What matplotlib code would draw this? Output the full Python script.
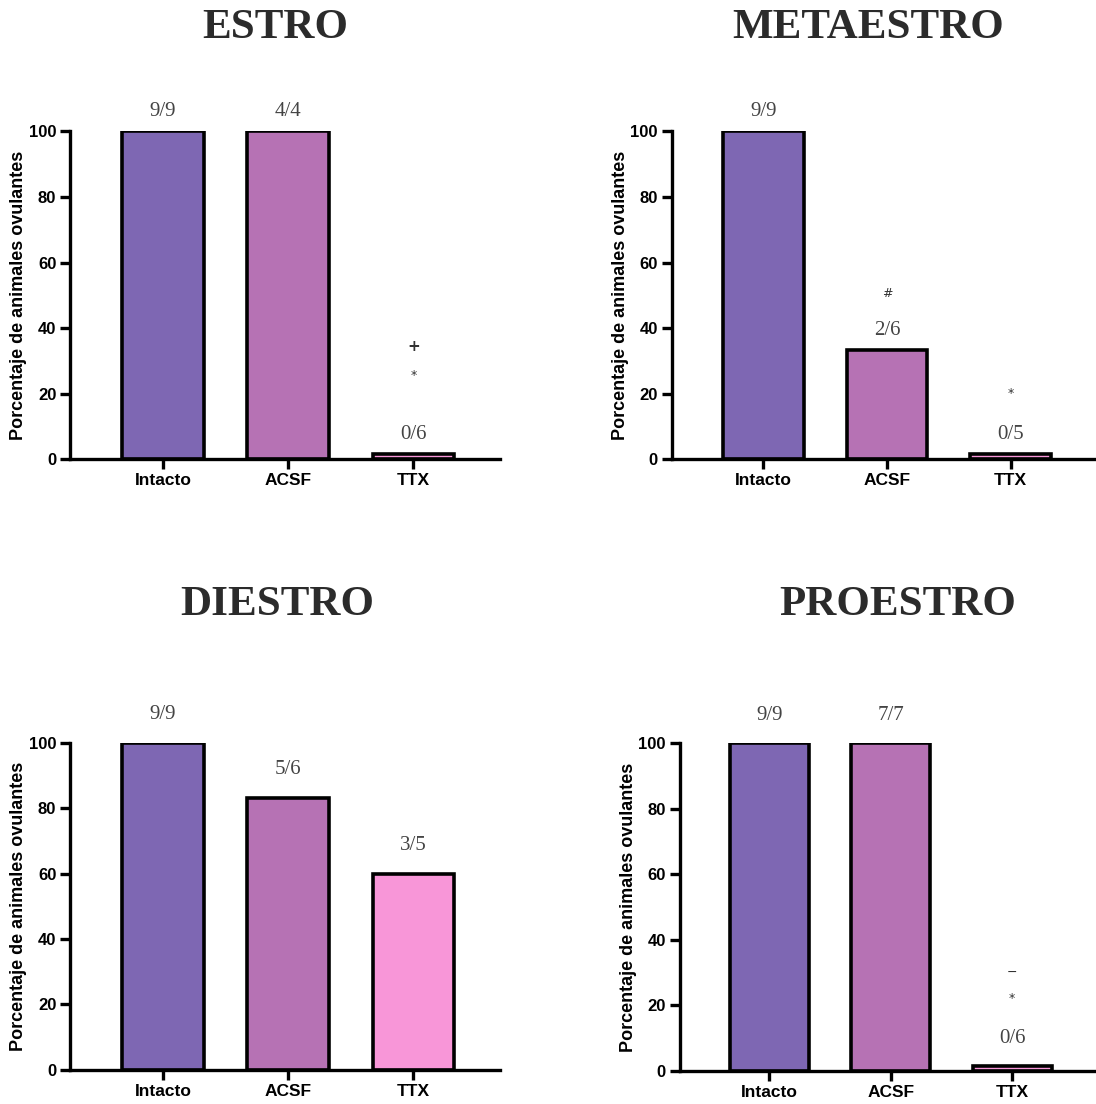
import numpy as np
import matplotlib
matplotlib.use('Agg')
import matplotlib.pyplot as plt

# data
groups = ['Intacto', 'ACSF', 'TTX']
titles = ['ESTRO', 'METAESTRO', 'DIESTRO', 'PROESTRO']
pct = [[100, 100, 0], [100, 33.3, 0], [100, 83.3, 60], [100, 100, 0]]
ratios = [['9/9', '4/4', '0/6'], ['9/9', '2/6', '0/5'],
          ['9/9', '5/6', '3/5'], ['9/9', '7/7', '0/6']]
# significance marks above TTX / ACSF (panel, group, symbol, y)
marks = [(0, 2, '*', 25.5), (0, 2, '+', 34.5),
         (1, 1, '#', 50.5), (1, 2, '*', 20),
         (3, 2, '*', 22), (3, 2, '\u2212', 30)]
colors = ['#7e67b3', '#b672b4', '#f896d8']

fig = plt.figure(figsize=(10.96, 11.04), dpi=100)
boxes = [[0.064, 0.584, 0.392, 0.297],
         [0.613, 0.584, 0.387, 0.297],
         [0.064, 0.031, 0.392, 0.296],
         [0.620, 0.030, 0.380, 0.297]]
title_xy = [(0.251, 0.975), (0.792, 0.975), (0.253, 0.452), (0.819, 0.452)]
label_off = [6, 6, 8.7, 8.5]

x = np.arange(len(groups))
for i in range(4):
    ax = fig.add_axes(boxes[i])
    h = [max(v, 1.5) for v in pct[i]]  # zero bars still show as a thin strip
    ax.bar(x, h, width=0.65, color=colors, edgecolor='black', linewidth=2.6, zorder=2)
    ax.set_xlim(-0.74, 2.69)
    ax.set_ylim(0, 100)
    ax.set_yticks([0, 20, 40, 60, 80, 100])
    ax.set_xticks(x)
    ax.set_xticklabels(groups, fontsize=12.5, fontweight='bold', family='Liberation Sans')
    for lab in ax.get_yticklabels():
        lab.set_fontsize(12)
        lab.set_fontweight('bold')
        lab.set_family('Liberation Sans')
    ax.set_ylabel('Porcentaje de animales ovulantes', fontsize=13,
                  fontweight='bold', family='Liberation Sans', labelpad=1)
    for s in ['top', 'right']:
        ax.spines[s].set_visible(False)
    for s in ['left', 'bottom']:
        ax.spines[s].set_linewidth(2.4)
    ax.tick_params(axis='both', width=2.4, length=7, pad=3)
    for j in range(3):
        ax.text(x[j], h[j] + label_off[i], ratios[i][j], ha='center', va='center',
                fontsize=15, color='#444444', family='Liberation Serif',
                clip_on=False)
    for (p, g, sym, yy) in marks:
        if p == i:
            ax.text(x[g], yy, sym, ha='center', va='center',
                    fontsize=9 if sym != '+' else 11, color='#333333',
                    family='DejaVu Sans', fontweight='bold' if sym == '+' else 'normal')
    fig.text(title_xy[i][0], title_xy[i][1], titles[i], ha='center', va='center',
             fontsize=31, fontweight='bold', family='Liberation Serif', color='#2b2b2b')

fig.savefig('out.png', dpi=100)
